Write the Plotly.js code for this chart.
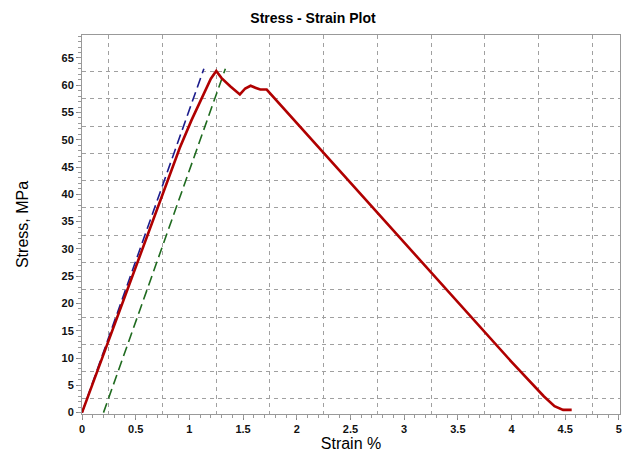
<!DOCTYPE html>
<html>
<head>
<meta charset="utf-8">
<script src="https://cdn.plot.ly/plotly-3.0.1.min.js"></script>
<style>html,body{margin:0;padding:0;background:#fff;}#chart{width:626px;height:452px;}</style>
</head>
<body>
<div id="chart"></div>
<script>
// Measured stress-strain curve (red)
const strainMeasured = [0, 0.1, 0.3, 0.5, 0.71, 0.91, 1.02, 1.12, 1.2, 1.25, 1.3, 1.38, 1.47, 1.52, 1.57, 1.62, 1.66, 1.72, 2.03, 2.5, 3.0, 3.5, 4.0, 4.3, 4.4, 4.48, 4.56];
const stressMeasured = [0, 5.3, 15.9, 26.4, 37.8, 48.5, 53.6, 58.0, 61.2, 62.6, 61.3, 59.8, 58.3, 59.4, 59.9, 59.5, 59.2, 59.2, 52.4, 42.2, 31.2, 20.2, 9.3, 3.0, 1.2, 0.5, 0.5];
// Modulus line (blue dashed)
const strainModulus = [0, 1.135];
const stressModulus = [0, 63];
// 0.2% offset line (green dashed)
const strainOffset = [0.2, 1.335];
const stressOffset = [0, 63];

const xTickVals = [0, 0.5, 1, 1.5, 2, 2.5, 3, 3.5, 4, 4.5, 5];
const xTickText = ['0', '0.5', '1', '1.5', '2', '2.5', '3', '3.5', '4', '4.5', '5'];
const yTickVals = [0, 5, 10, 15, 20, 25, 30, 35, 40, 45, 50, 55, 60, 65];
const xGridVals = [0.25, 0.75, 1.25, 1.75, 2.25, 2.75, 3.25, 3.75, 4.25, 4.75];
const yGridVals = [2.5, 7.5, 12.5, 17.5, 22.5, 27.5, 32.5, 37.5, 42.5, 47.5, 52.5, 57.5, 62.5];

const xRange = [0, 5.01];
const yRange = [-0.25, 69.2];

const tickFont = {family: 'Liberation Sans, Arial, sans-serif', size: 11, color: '#111', weight: 'bold'};
const gridColor = '#a0a0a0';

const traces = [
  {x: strainModulus, y: stressModulus, mode: 'lines', line: {color: '#1c1c8c', width: 1.6, dash: '10px,5px'}, hoverinfo: 'skip'},
  {x: strainOffset, y: stressOffset, mode: 'lines', line: {color: '#1f6b1f', width: 1.6, dash: '10px,5px'}, hoverinfo: 'skip'},
  {x: strainMeasured, y: stressMeasured, mode: 'lines', line: {color: '#b00000', width: 2.6}, hoverinfo: 'skip'},
  {x: [], y: [], xaxis: 'x2', yaxis: 'y2', mode: 'lines', hoverinfo: 'skip'}
];

const layout = {
  width: 626, height: 452,
  margin: {l: 82, r: 6, t: 35, b: 38},
  paper_bgcolor: '#fff', plot_bgcolor: '#fff',
  showlegend: false,
  title: {text: 'Stress - Strain Plot', x: 0.5, xanchor: 'center', y: 0.96, yanchor: 'middle',
          font: {family: 'Liberation Sans, Arial, sans-serif', size: 14, color: '#000', weight: 'bold'}},
  xaxis: {
    range: xRange, tickmode: 'array', tickvals: xTickVals, ticktext: xTickText,
    showgrid: false, zeroline: false, showline: true, linecolor: '#999', linewidth: 1, mirror: true,
    ticks: 'outside', ticklen: 5, tickcolor: '#888', tickfont: tickFont,
    minor: {tickmode: 'array', tickvals: xGridVals, ticks: '', showgrid: true, gridcolor: gridColor, griddash: '4px,4px', gridwidth: 1},
    title: {text: 'Strain %', font: {family: 'Liberation Sans, Arial, sans-serif', size: 16, color: '#000'}, standoff: 4}
  },
  yaxis: {
    range: yRange, tickmode: 'array', tickvals: yTickVals,
    showgrid: false, zeroline: false, showline: true, linecolor: '#999', linewidth: 1, mirror: true,
    ticks: 'outside', ticklen: 5, tickcolor: '#888', tickfont: tickFont,
    minor: {tickmode: 'array', tickvals: yGridVals, ticks: '', showgrid: true, gridcolor: gridColor, griddash: '4px,4px', gridwidth: 1},
    title: {text: 'Stress, MPa', font: {family: 'Liberation Sans, Arial, sans-serif', size: 16, color: '#000'}, standoff: 28}
  },
  xaxis2: {
    overlaying: 'x', anchor: 'y', side: 'bottom', range: xRange, tickmode: 'linear', tick0: 0, dtick: 0.1,
    showgrid: false, showticklabels: false, ticks: 'outside', ticklen: 3, tickcolor: '#999', showline: false, zeroline: false
  },
  yaxis2: {
    overlaying: 'y', anchor: 'x', side: 'left', range: yRange, tickmode: 'linear', tick0: 0, dtick: 1,
    showgrid: false, showticklabels: false, ticks: 'outside', ticklen: 3, tickcolor: '#999', showline: false, zeroline: false
  }
};

Plotly.newPlot('chart', traces, layout, {staticPlot: true});
</script>
</body>
</html>
